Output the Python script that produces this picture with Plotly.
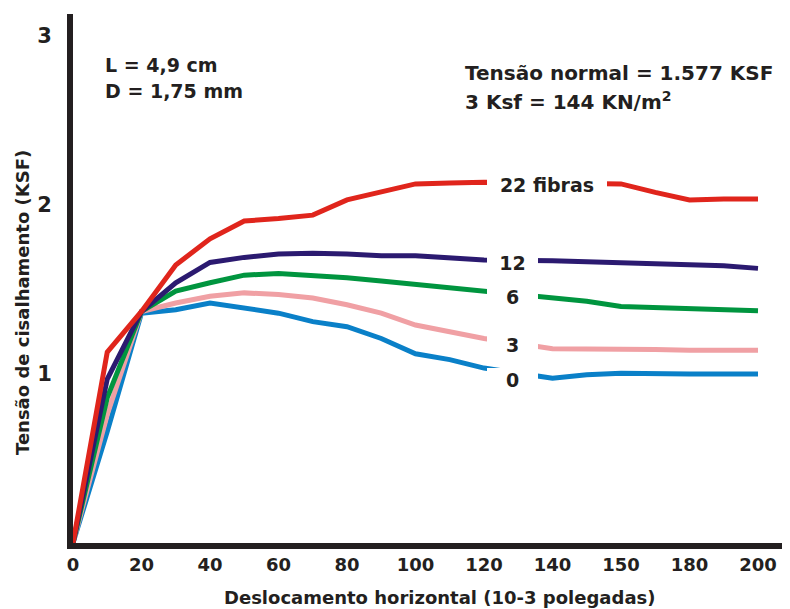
import plotly.graph_objects as go

# positional x (tick labels are unevenly valued but evenly spaced in the original)
x_pos = [0, 10, 20, 30, 40, 50, 60, 70, 80, 90, 100, 110, 120, 140, 150, 160, 170, 180, 190, 200]
tick_pos = [0, 20, 40, 60, 80, 100, 120, 140, 160, 180, 200]
tick_labels = ["0", "20", "40", "60", "80", "100", "120", "140", "150", "180", "200"]

fibras_22 = [0, 1.13, 1.37, 1.645, 1.80, 1.905, 1.92, 1.94, 2.03, 2.08, 2.125, 2.13, 2.135, 2.13, 2.13, 2.125, 2.075, 2.03, 2.035, 2.035]
fibras_12 = [0, 0.97, 1.37, 1.54, 1.66, 1.69, 1.71, 1.715, 1.71, 1.70, 1.70, 1.69, 1.675, 1.67, 1.665, 1.66, 1.655, 1.65, 1.64, 1.625]
fibras_6 = [0, 0.86, 1.37, 1.49, 1.54, 1.585, 1.595, 1.585, 1.57, 1.55, 1.53, 1.51, 1.49, 1.45, 1.43, 1.40, 1.395, 1.39, 1.385, 1.375]
fibras_3 = [0, 0.76, 1.37, 1.42, 1.46, 1.48, 1.47, 1.45, 1.41, 1.36, 1.29, 1.25, 1.21, 1.15, 1.15, 1.15, 1.145, 1.14, 1.14, 1.14]
fibras_0 = [0, 0.66, 1.36, 1.38, 1.42, 1.39, 1.36, 1.31, 1.28, 1.21, 1.12, 1.085, 1.035, 0.975, 0.995, 1.005, 1.0, 1.0, 1.0, 1.0]

series = [
    ("0", fibras_0, "#0a80c8"),
    ("3", fibras_3, "#f0a0a4"),
    ("6", fibras_6, "#00953f"),
    ("12", fibras_12, "#2b1a70"),
    ("22 fibras", fibras_22, "#e0251c"),
]

OFF = 8  # page body margin
W, H = 790 - OFF, 609 - OFF
L, R, T, B = 65, 0, 6, 66
PW, PH = W - L - R, H - T - B
PX_PER_UNIT_Y = 169.0
PX_PER_UNIT_X = 3.425
X_MAX = PW / PX_PER_UNIT_X
Y_MAX = PH / PX_PER_UNIT_Y

def px(xr):
    return (xr - OFF - L) / PW

def py(yr):
    return (H - B - (yr - OFF)) / PH

FONT = "DejaVu Sans, Verdana, sans-serif"
TXT = "#231f20"

fig = go.Figure()
for name, ys, col in series:
    fig.add_trace(go.Scatter(x=x_pos, y=ys, mode="lines", name=name,
                             line=dict(color=col, width=5), showlegend=False,
                             cliponaxis=True))

annotations = []
# line labels with white masks (gaps in the lines)
label_specs = [
    ("22 fibras", 487, 607, 185),
    ("12", 487, 538, 263),
    ("6", 487, 538, 297),
    ("3", 487, 538, 345),
    ("0", 487, 538, 380),
]
for text, x0, x1, yc in label_specs:
    annotations.append(dict(
        text=text, xref="paper", yref="paper", x=px((x0 + x1) / 2), y=py(yc),
        xanchor="center", yanchor="middle", showarrow=False,
        width=x1 - x0, height=24, bgcolor="white", borderpad=0, borderwidth=0,
        font=dict(family=FONT, size=19, color=TXT, weight="bold"),
    ))

def txt(text, xr, yr, anchor="left", size=20, angle=0):
    return dict(text=text, xref="paper", yref="paper", x=px(xr), y=py(yr),
                xanchor=anchor, yanchor="middle", showarrow=False, textangle=angle,
                font=dict(family=FONT, size=size, color=TXT, weight="bold"))

annotations += [
    txt("L = 4,9 cm", 103, 65, size=19),
    txt("D = 1,75 mm", 103, 91, size=19),
    txt("Tensão normal = 1.577 KSF", 463, 73, size=20),
    txt("3 Ksf = 144 KN/m<sup>2</sup>", 463, 101, size=20),
    txt("Deslocamento horizontal (10-3 polegadas)", 440, 597, anchor="center", size=18),
    txt("Tensão de cisalhamento (KSF)", 22, 303, anchor="center", size=18, angle=-90),
]

fig.update_layout(
    width=W, height=H, margin=dict(l=L, r=R, t=T, b=B, pad=0),
    paper_bgcolor="white", plot_bgcolor="white",
    annotations=annotations,
    xaxis=dict(range=[0, X_MAX], tickmode="array", tickvals=tick_pos, ticktext=tick_labels,
               showgrid=False, zeroline=False, showline=True, linecolor="#231f20", linewidth=6,
               ticks="", ticklabelstandoff=0,
               tickfont=dict(family=FONT, size=18, color=TXT, weight="bold")),
    yaxis=dict(range=[0, Y_MAX], tickmode="array", tickvals=[1, 2, 3], ticktext=["1", "2", "3"],
               showgrid=False, zeroline=False, showline=True, linecolor="#231f20", linewidth=6,
               ticks="", ticklabelstandoff=11,
               tickfont=dict(family=FONT, size=21, color=TXT, weight="bold")),
)

fig.write_html("out.html")
